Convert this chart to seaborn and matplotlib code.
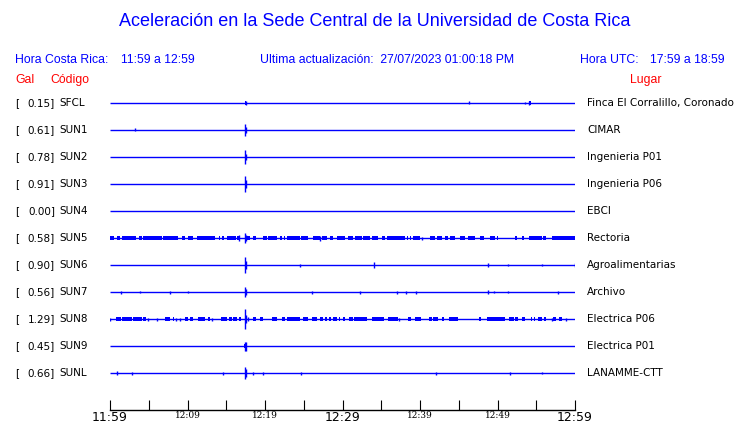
import matplotlib
matplotlib.use("Agg")
import matplotlib.pyplot as plt
import seaborn as sns

# stations, peak acceleration (gal) and place
stations = ["SFCL", "SUN1", "SUN2", "SUN3", "SUN4", "SUN5", "SUN6", "SUN7", "SUN8", "SUN9", "SUNL"]
gal = [0.15, 0.61, 0.78, 0.91, 0.00, 0.58, 0.90, 0.56, 1.29, 0.45, 0.66]
places = ["Finca El Corralillo, Coronado", "CIMAR", "Ingenieria P01", "Ingenieria P06", "EBCI",
          "Rectoria", "Agroalimentarias", "Archivo", "Electrica P06", "Electrica P01", "LANAMME-CTT"]

# minutes after 11:59
tick_minutes = [0, 10, 20, 30, 40, 50, 60]
tick_labels = ["11:59", "12:09", "12:19", "12:29", "12:39", "12:49", "12:59"]

# spikes: (minute, half amplitude in px)
sfcl_spikes = [(17.5, 2), (46.3, 1.5), (53.6, 1.2), (54.1, 2)]
sun1_spikes = [(3.2, 1.5), (17.4, 6), (17.6, 3)]
sun2_spikes = [(17.4, 7), (17.6, 3)]
sun3_spikes = [(17.4, 8), (17.6, 4)]
sun4_spikes = []
sun5_spikes = [(16.6, 3), (17.4, 5), (17.6, 3), (27.1, 2.5), (40.2, 1.5)]
sun6_spikes = [(17.4, 8), (17.6, 4), (24.5, 1.5), (34.0, 3), (48.8, 2), (51.3, 1), (55.8, 1), (60.0, 2)]
sun7_spikes = [(1.4, 1.5), (3.9, 1), (7.7, 1.5), (10.1, 1), (17.4, 5), (17.6, 3), (26.1, 1.5),
               (32.2, 1.5), (37.0, 1.5), (38.2, 1.5), (39.5, 1.5), (48.8, 2), (49.5, 1), (51.3, 1), (57.8, 1.5)]
sun8_spikes = [(0.0, 1.5), (4.9, 1.5), (6.1, 1.5), (8.5, 1.5), (9.0, 1.5), (13.1, 1.5), (17.4, 10),
               (17.6, 4), (17.8, 2), (37.3, 1.5), (57.0, 1.5), (58.8, 1.5)]
sun9_spikes = [(17.4, 4.5), (17.5, 4.5)]
sunl_spikes = [(0.9, 2), (2.9, 1.5), (14.6, 1.5), (17.4, 6), (17.6, 4), (18.5, 1.5), (19.8, 1.5),
               (24.7, 1.5), (42.0, 1.5), (51.6, 1.5), (55.8, 1)]

# noisy stretches: (start minute, end minute)
sun5_bands = [(0.0, 0.5), (0.9, 1.3), (1.5, 3.4), (3.7, 4.1), (4.3, 6.7), (6.9, 8.8), (9.3, 9.7),
              (10.0, 10.7), (11.2, 13.5), (14.0, 14.2), (14.4, 14.7), (15.1, 16.3), (16.4, 16.8),
              (17.6, 18.1), (18.5, 18.9), (19.8, 20.2), (20.4, 21.5), (21.9, 22.2), (22.4, 22.6),
              (22.8, 24.5), (24.7, 25.6), (26.2, 27.1), (27.3, 28.0), (28.4, 28.8), (29.3, 30.3),
              (30.7, 31.4), (31.6, 32.5), (32.7, 33.5), (33.8, 34.6), (35.1, 35.5), (35.7, 38.1),
              (38.3, 38.5), (38.7, 38.8), (39.1, 40.0), (41.3, 41.9), (42.2, 42.8), (43.2, 43.6),
              (43.9, 44.5), (45.2, 45.8), (46.2, 47.1), (47.7, 48.2), (49.0, 49.7), (49.9, 50.1),
              (52.3, 52.5), (53.1, 53.4), (54.0, 55.7), (55.9, 56.3), (57.0, 60.0)]
sun8_bands = [(0.8, 1.4), (1.6, 2.8), (3.0, 4.1), (4.3, 4.7), (7.1, 7.8), (8.1, 8.3), (9.7, 10.0),
              (10.3, 10.7), (11.4, 12.3), (12.7, 12.9), (14.3, 15.1), (15.3, 15.7), (15.9, 16.4),
              (16.7, 16.9), (18.5, 18.9), (19.4, 19.8), (20.9, 21.5), (22.2, 22.6), (22.8, 24.5),
              (24.9, 25.6), (26.0, 26.7), (27.1, 27.5), (27.7, 28.0), (28.3, 28.5), (28.8, 29.3),
              (29.5, 29.7), (30.0, 30.3), (30.9, 31.3), (31.5, 33.1), (33.8, 35.3), (35.9, 37.1),
              (38.5, 38.8), (39.4, 40.1), (41.2, 41.5), (41.7, 42.3), (42.9, 43.1), (43.7, 44.9),
              (47.6, 47.9), (48.7, 51.0), (51.5, 52.1), (52.3, 52.7), (53.1, 53.5), (54.3, 54.5),
              (54.7, 54.9), (55.2, 55.7), (56.0, 56.3), (57.2, 57.6), (57.9, 58.3)]
sfcl_bands = [(17.4, 17.6), (54.0, 54.3)]
sun9_bands = [(17.35, 17.6)]

spikes = [sfcl_spikes, sun1_spikes, sun2_spikes, sun3_spikes, sun4_spikes, sun5_spikes,
          sun6_spikes, sun7_spikes, sun8_spikes, sun9_spikes, sunl_spikes]
bands = {"SFCL": sfcl_bands, "SUN5": sun5_bands, "SUN8": sun8_bands, "SUN9": sun9_bands}

sns.set_theme(style="white")
plt.rcParams["font.family"] = ["DejaVu Sans"]

BLUE = "#0000ff"
RED = "#ff0000"
W, H = 740, 423

fig = plt.figure(figsize=(W / 100, H / 100), dpi=100)
ax = fig.add_axes([110 / W, 13 / H, 465 / W, 320 / H])
ax.set_xlim(0, 60)
ax.set_ylim(410, 90)

row_y = [103 + 27 * i for i in range(len(stations))]


def fy(v):
    return 1 - v / H


for i, st in enumerate(stations):
    y = row_y[i]
    ax.hlines(y, 0, 60, color=BLUE, lw=1.0)
    for start, end in bands.get(st, []):
        ax.fill_between([start, end], y - 1.7, y + 1.7, color=BLUE, lw=0)
    for m, a in spikes[i]:
        ax.vlines(m, y - a, y + a, color=BLUE, lw=1.0)

    fig.text(15 / W, fy(y), "[", fontsize=7.5, va="center", color="black")
    fig.text(55 / W, fy(y), f"{gal[i]:.2f}]", fontsize=7.5, va="center", ha="right", color="black")
    fig.text(59 / W, fy(y), st, fontsize=7.5, va="center", color="black")
    fig.text(587 / W, fy(y), places[i], fontsize=7.5, va="center", color="black")

# axis styling
sns.despine(ax=ax, left=True, top=True, right=True)
ax.spines["bottom"].set_color("black")
ax.spines["bottom"].set_linewidth(1.0)
ax.set_yticks([])
ax.set_xticks(tick_minutes)
ax.set_xticks([5, 15, 25, 35, 45, 55], minor=True)
ax.tick_params(axis="x", which="both", direction="in", length=7, width=0.8, color="black", bottom=True)
ax.tick_params(axis="x", which="major", pad=0.5)
ax.set_xticklabels(tick_labels)
for lbl in ax.get_xticklabels():
    if lbl.get_text() in ("11:59", "12:29", "12:59"):
        lbl.set_fontsize(9)
        lbl.set_family("DejaVu Sans")
    else:
        lbl.set_fontsize(6.5)
        lbl.set_family("DejaVu Serif")
    lbl.set_color("black")
ax.grid(False)

# header texts
hfont = "Liberation Sans"
fig.text(375 / W, fy(22), "Aceleración en la Sede Central de la Universidad de Costa Rica",
         ha="center", va="center", fontsize=13, color=BLUE, family=hfont)
fig.text(15 / W, fy(60), "Hora Costa Rica:", fontsize=8.8, va="center", color=BLUE, family=hfont)
fig.text(121 / W, fy(60), "11:59 a 12:59", fontsize=8.8, va="center", color=BLUE, family=hfont)
fig.text(260 / W, fy(60), "Ultima actualización:  27/07/2023 01:00:18 PM", fontsize=8.8,
         va="center", color=BLUE, family=hfont)
fig.text(580 / W, fy(60), "Hora UTC:", fontsize=8.8, va="center", color=BLUE, family=hfont)
fig.text(650 / W, fy(60), "17:59 a 18:59", fontsize=8.8, va="center", color=BLUE, family=hfont)
fig.text(15 / W, fy(80), "Gal", fontsize=8.8, va="center", color=RED, family=hfont)
fig.text(50 / W, fy(80), "Código", fontsize=8.8, va="center", color=RED, family=hfont)
fig.text(630 / W, fy(80), "Lugar", fontsize=8.8, va="center", color=RED, family=hfont)

fig.savefig("out.png", dpi=100, facecolor="white")
